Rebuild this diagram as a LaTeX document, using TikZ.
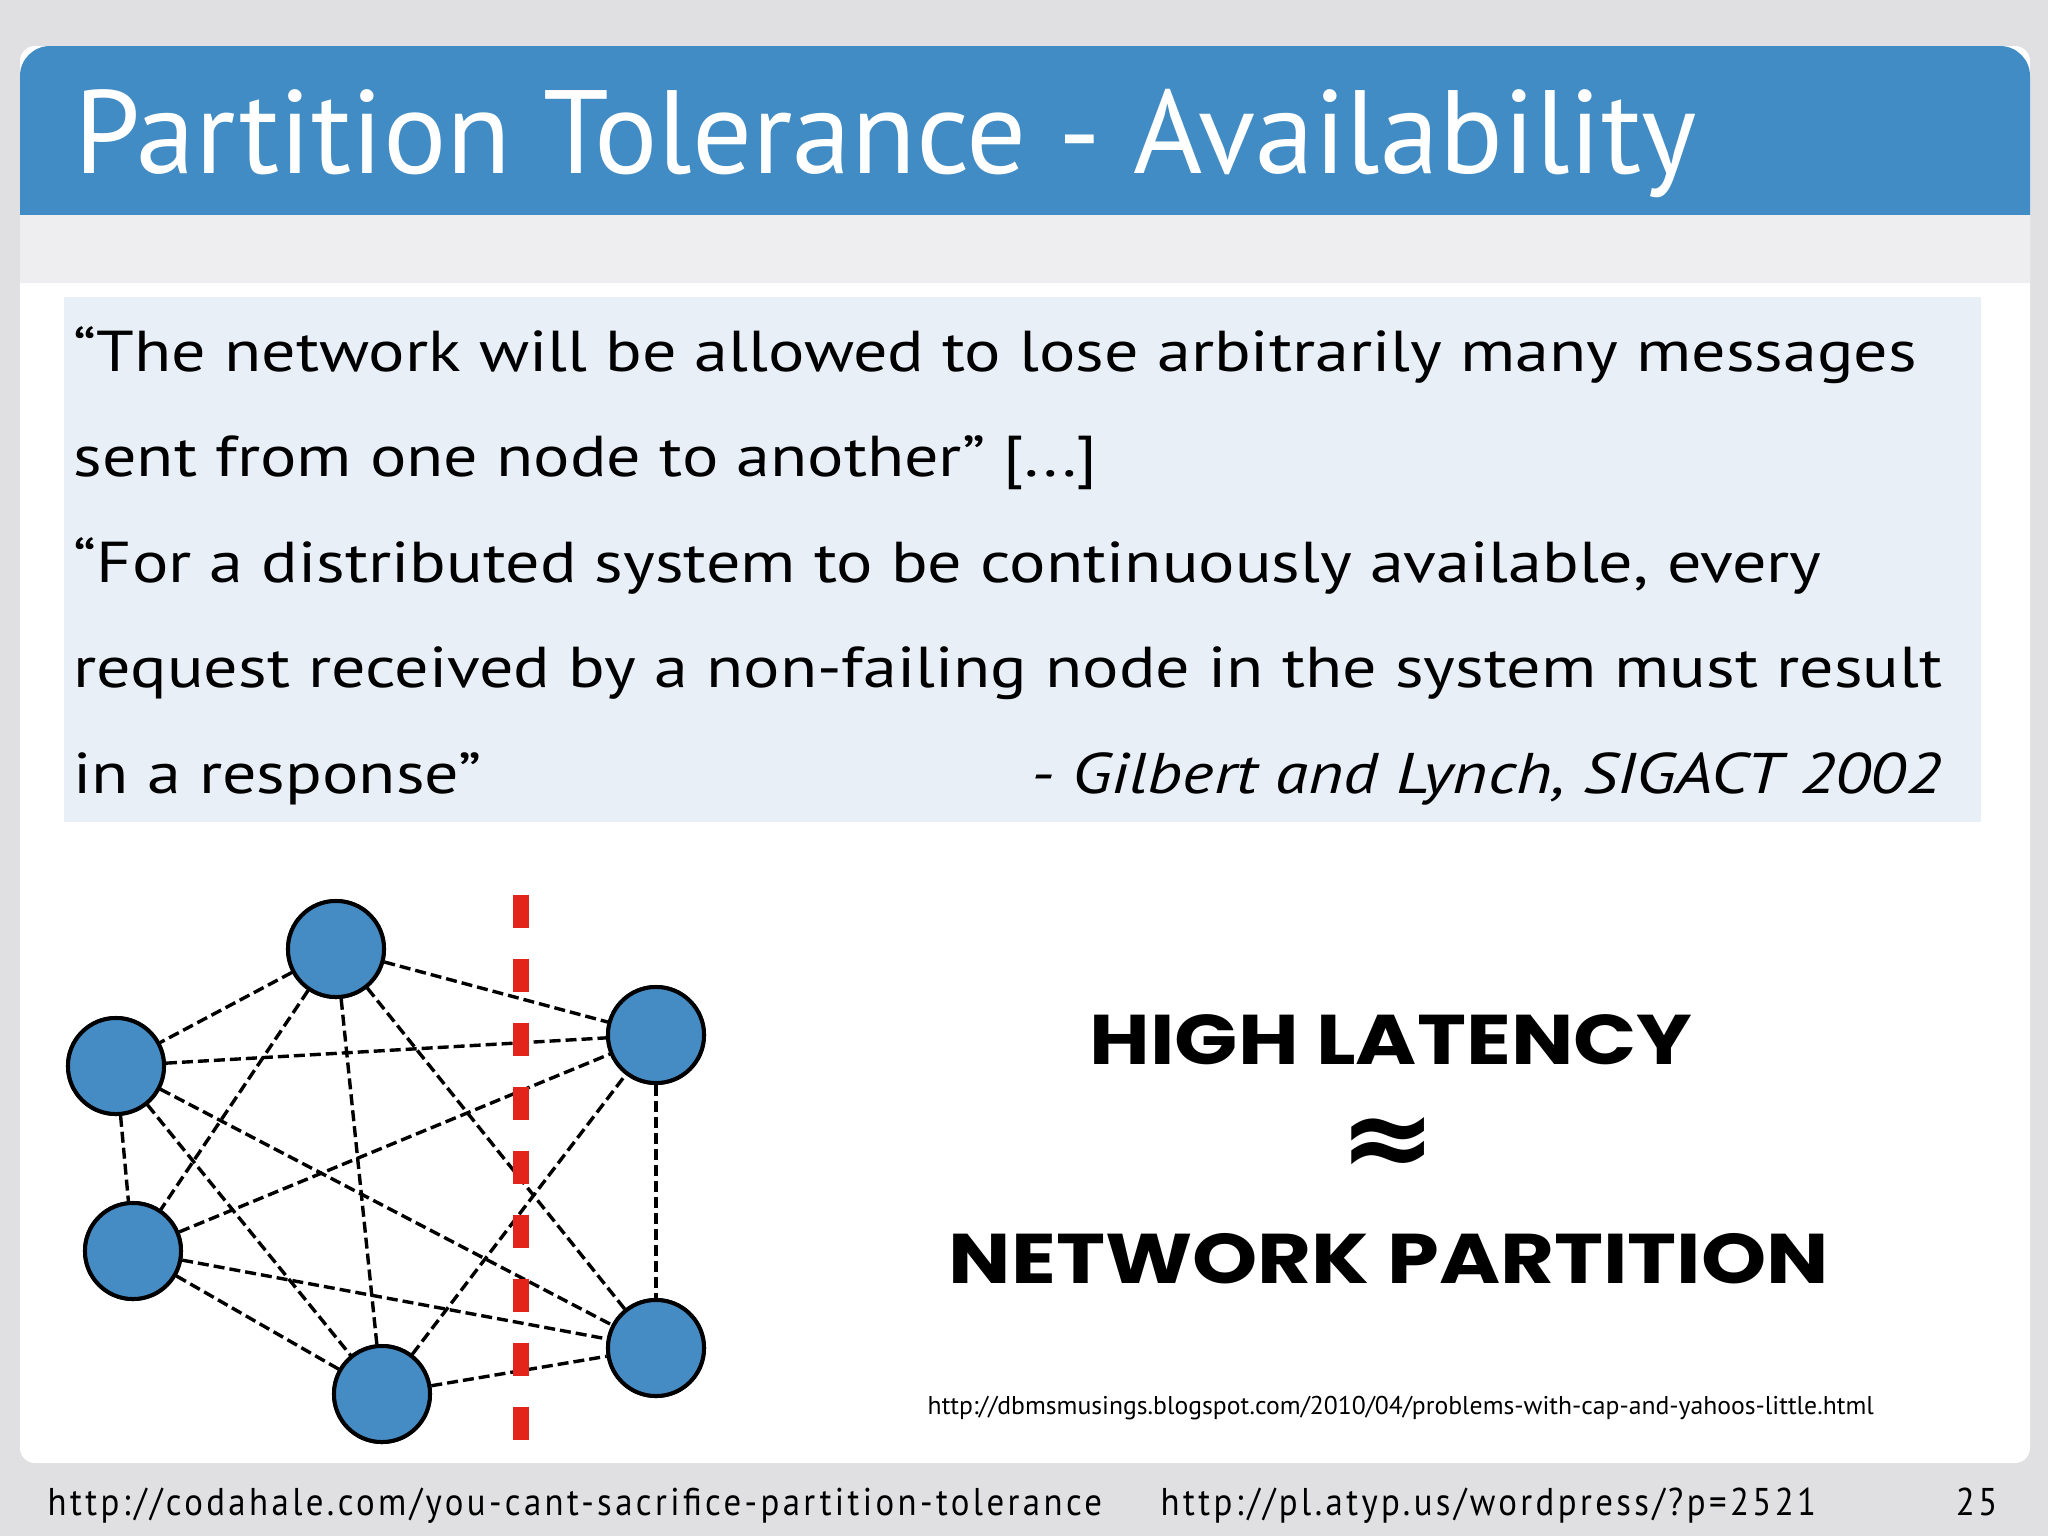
\documentclass[tikz,border=0pt]{standalone}
\usepackage{fontspec}
\setmainfont{PT Sans}
\newfontfamily\quotefont{PT Sans}[FakeStretch=1.18]
\newfontfamily\footfont{PT Sans}[FakeStretch=0.9, LetterSpace=8.8]
\newfontfamily\heavyfont{Poppins}[FakeStretch=1.18]
\newfontfamily\symfont{DejaVu Sans}
\definecolor{slidebg}{RGB}{224,224,226}
\definecolor{headblue}{RGB}{65,140,196}
\definecolor{bandgray}{RGB}{238,237,240}
\definecolor{quotebg}{RGB}{232,239,247}
\definecolor{peerblue}{RGB}{70,140,196}
\definecolor{cutred}{RGB}{226,36,26}

\begin{document}
\begin{tikzpicture}[
    x=0.01cm, y=-0.01cm,
    peer/.style={circle, draw, line width=0.04cm, fill=peerblue, minimum size=0.96cm, inner sep=0pt},
    link/.style={line width=0.034cm, dash pattern=on 0.11cm off 0.05cm},
    cut/.style={cutred, line width=0.165cm, dash pattern=on 0.33cm off 0.31cm},
    quote/.style={anchor=base west, inner sep=0pt, font=\quotefont\fontsize{16.4}{19}\selectfont},
    foot/.style={anchor=base west, inner sep=0pt, font=\footfont\fontsize{11}{13}\selectfont},
    big/.style={anchor=base, inner sep=0pt, font=\heavyfont\bfseries\fontsize{20}{24}\selectfont}
]
    \useasboundingbox (0,0) rectangle (2048,1536);

    % Slide background
    \fill[slidebg] (0,0) rectangle (2048,1536);
    \fill[white, rounded corners=0.15cm] (20,46) rectangle (2030,1463);
    \fill[headblue] (20,215) {[rounded corners=0.3cm] -- (20,46) -- (2030,46)} -- (2030,215) -- cycle;
    \fill[bandgray] (20,215) rectangle (2030,283);
    \node[anchor=base west, inner sep=0pt, text=white, font=\fontsize{33.7}{38}\selectfont] (title) at (74,173) {Partition Tolerance - Availability};

    % Quote
    \fill[quotebg] (64,297) rectangle (1981,822);
    \node[quote] (q1) at (73,371) {“The network will be allowed to lose arbitrarily many messages};
    \node[quote] (q2) at (73,476) {sent from one node to another” [...]};
    \node[quote] (q3) at (73,582) {“For a distributed system to be continuously available, every};
    \node[quote] (q4) at (73,687) {request received by a non-failing node in the system must result};
    \node[quote] (q5) at (73,793) {in a response”};
    \node[quote, anchor=base east, font=\quotefont\fontsize{16.3}{19}\selectfont\itshape] (cite) at (1942,793) {- Gilbert and Lynch, SIGACT 2002};

    % Peers
    \node[peer] (top) at (336,949) {};
    \node[peer] (ul) at (116,1066) {};
    \node[peer] (ll) at (133,1251) {};
    \node[peer] (bot) at (382,1394) {};
    \node[peer] (ur) at (656,1035) {};
    \node[peer] (lr) at (656,1348) {};

    % Links (every pair)
    \draw[link] (top) -- (ul);
    \draw[link] (top) -- (ll);
    \draw[link] (top) -- (bot);
    \draw[link] (top) -- (ur);
    \draw[link] (top) -- (lr);
    \draw[link] (ul) -- (ll);
    \draw[link] (ul) -- (bot);
    \draw[link] (ul) -- (ur);
    \draw[link] (ul) -- (lr);
    \draw[link] (ll) -- (bot);
    \draw[link] (ll) -- (ur);
    \draw[link] (ll) -- (lr);
    \draw[link] (bot) -- (ur);
    \draw[link] (bot) -- (lr);
    \draw[link] (ur) -- (lr);

    % Partition
    \coordinate (cuttop) at (521,895);
    \coordinate (cutbot) at (521,1442);
    \draw[cut] (cuttop) -- (cutbot);

    % Peers again on top of the links
    \foreach \p in {top,ul,ll,bot,ur,lr}
        \node[peer] at (\p) {};

    % Right side
    \node[big] (lat) at (1391,1064) {HIGH LATENCY};
    \node[inner sep=0pt, font=\symfont\bfseries\fontsize{33}{36}\selectfont] (approx) at (1388,1147) {≈};
    \node[big] (part) at (1389,1283) {NETWORK PARTITION};
    \node[anchor=base west, inner sep=0pt, font=\fontsize{7.3}{9}\selectfont] (src) at (927,1414) {http://dbmsmusings.blogspot.com/2010/04/problems-with-cap-and-yahoos-little.html};

    % Footer
    \node[foot] (url1) at (47,1515) {http://codahale.com/you-cant-sacrifice-partition-tolerance};
    \node[foot] (url2) at (1160,1515) {http://pl.atyp.us/wordpress/?p=2521};
    \node[foot, anchor=base east] (page) at (1998,1515) {25};
\end{tikzpicture}
\end{document}
